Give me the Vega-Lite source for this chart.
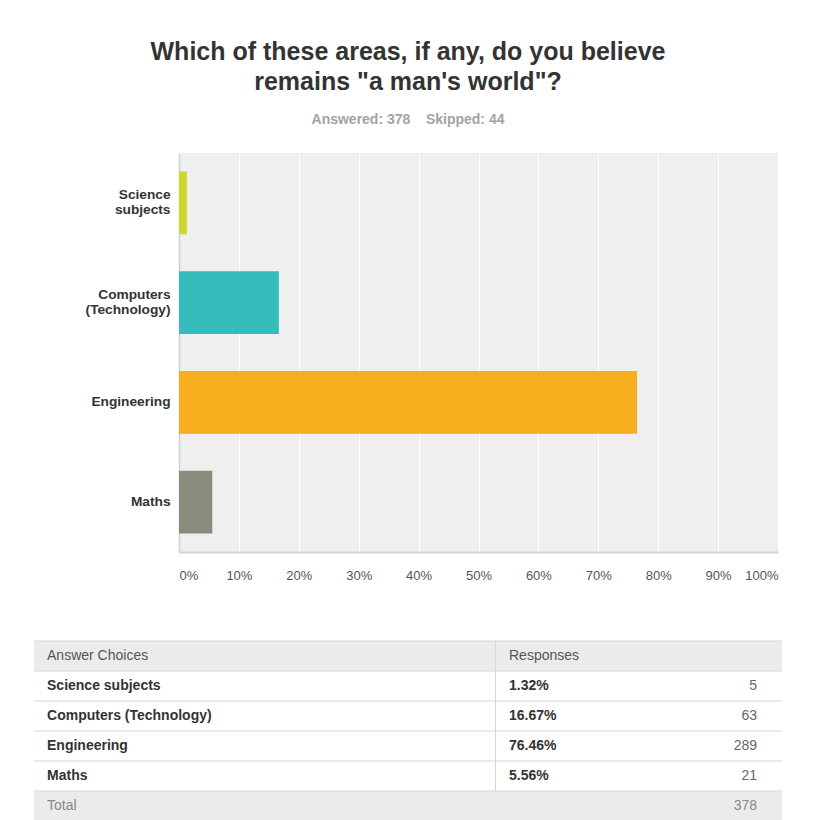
{
  "$schema": "https://vega.github.io/schema/vega-lite/v6.json",
  "padding": {"left": 33, "top": 40, "right": 0, "bottom": 0},
  "background": "#ffffff",
  "title": {
    "text": ["Which of these areas, if any, do you believe", "remains \"a man's world\"?"],
    "subtitle": "Answered: 378\u00a0\u00a0\u00a0\u00a0Skipped: 44",
    "anchor": "middle",
    "frame": "bounds",
    "font": "Liberation Sans",
    "fontSize": 25,
    "fontWeight": "bold",
    "color": "#333333",
    "lineHeight": 30,
    "subtitleFont": "Liberation Sans",
    "subtitleFontSize": 14,
    "subtitleFontWeight": "bold",
    "subtitleColor": "#a3a3a3",
    "subtitlePadding": 18,
    "offset": 26
  },
  "datasets": {
    "answers": [
      {"choice": "Science subjects", "pct": 0.0132, "count": 5},
      {"choice": "Computers (Technology)", "pct": 0.1667, "count": 63},
      {"choice": "Engineering", "pct": 0.7646, "count": 289},
      {"choice": "Maths", "pct": 0.0556, "count": 21}
    ],
    "header": [{"row": "Answer Choices", "label": "Answer Choices", "label2": "Responses"}],
    "total": [{"row": "Total", "label": "Total", "count": 378}],
    "rows": [
      {"row": "Answer Choices"},
      {"row": "Science subjects"},
      {"row": "Computers (Technology)"},
      {"row": "Engineering"},
      {"row": "Maths"},
      {"row": "Total"}
    ]
  },
  "vconcat": [
    {
      "width": 599,
      "height": 399,
      "view": {"fill": "#efefef", "stroke": null},
      "data": {"name": "answers"},
      "mark": {"type": "bar"},
      "encoding": {
        "y": {
          "field": "choice",
          "type": "nominal",
          "sort": null,
          "scale": {"paddingInner": 0.37, "paddingOuter": 0.185},
          "axis": {
            "title": null,
            "labelExpr": "split(datum.label, ' ')",
            "labelFont": "Liberation Sans",
            "labelFontSize": 13.7,
            "labelFontWeight": "bold",
            "labelColor": "#333333",
            "labelLineHeight": 15,
            "labelPadding": 9,
            "labelOffset": {"condition": {"test": "datum.value == 'Science subjects' || datum.value == 'Computers (Technology)'", "value": -7.5}, "value": 0},
            "ticks": false,
            "domain": true,
            "domainColor": "#d0d0d0",
            "domainWidth": 1.5,
            "minExtent": 145,
            "maxExtent": 145
          }
        },
        "x": {
          "field": "pct",
          "type": "quantitative",
          "scale": {"domain": [0, 1], "nice": false},
          "axis": {
            "title": null,
            "format": ".0%",
            "values": [0, 0.1, 0.2, 0.3, 0.4, 0.5, 0.6, 0.7, 0.8, 0.9, 1],
            "labelFont": "Liberation Sans",
            "labelFontSize": 13,
            "labelColor": "#555555",
            "labelPadding": 17,
            "labelFlush": true,
            "ticks": false,
            "grid": true,
            "gridColor": "#ffffff",
            "gridWidth": 1,
            "domain": true,
            "domainColor": "#d4d4d4",
            "domainWidth": 2
          }
        },
        "color": {
          "field": "choice",
          "type": "nominal",
          "scale": {
            "domain": ["Science subjects", "Computers (Technology)", "Engineering", "Maths"],
            "range": ["#ccd82c", "#35bdbe", "#f6ae1f", "#8a8b7a"]
          },
          "legend": null
        }
      }
    },
    {
      "width": 603,
      "height": 180,
      "view": {"fill": null, "stroke": null},
      "layer": [
        {
          "data": {"name": "header"},
          "mark": {"type": "rect", "fill": "#ebebeb"},
          "encoding": {
            "x": {"datum": 0},
            "x2": {"datum": 100},
            "y": {"field": "row", "type": "nominal"}
          }
        },
        {
          "data": {"name": "total"},
          "mark": {"type": "rect", "fill": "#ebebeb"},
          "encoding": {
            "x": {"datum": 0},
            "x2": {"datum": 100},
            "y": {"field": "row", "type": "nominal"}
          }
        },
        {
          "data": {"name": "rows"},
          "mark": {"type": "rule", "color": "#d6d6d6", "strokeWidth": 1},
          "encoding": {
            "x": {"datum": 0},
            "x2": {"datum": 100},
            "y": {"field": "row", "type": "nominal", "bandPosition": 0}
          }
        },
        {
          "data": {"name": "rows"},
          "transform": [{"filter": "datum.row != 'Total'"}],
          "mark": {"type": "rect", "fill": "#d6d6d6", "x2Offset": 1},
          "encoding": {
            "x": {"datum": 61.63},
            "x2": {"datum": 61.63},
            "y": {"field": "row", "type": "nominal"}
          }
        },
        {
          "data": {"name": "header"},
          "mark": {"type": "text", "align": "left", "font": "Liberation Sans", "fontSize": 14, "color": "#555555"},
          "encoding": {
            "x": {"datum": 1.74},
            "y": {"field": "row", "type": "nominal"},
            "text": {"field": "label"}
          }
        },
        {
          "data": {"name": "header"},
          "mark": {"type": "text", "align": "left", "font": "Liberation Sans", "fontSize": 14, "color": "#555555"},
          "encoding": {
            "x": {"datum": 63.5},
            "y": {"field": "row", "type": "nominal"},
            "text": {"field": "label2"}
          }
        },
        {
          "data": {"name": "answers"},
          "mark": {"type": "text", "align": "left", "font": "Liberation Sans", "fontSize": 14, "fontWeight": "bold", "color": "#333333"},
          "encoding": {
            "x": {"datum": 1.74},
            "y": {"field": "choice", "type": "nominal"},
            "text": {"field": "choice"}
          }
        },
        {
          "data": {"name": "answers"},
          "mark": {"type": "text", "align": "left", "font": "Liberation Sans", "fontSize": 14, "fontWeight": "bold", "color": "#333333"},
          "encoding": {
            "x": {"datum": 63.5},
            "y": {"field": "choice", "type": "nominal"},
            "text": {"field": "pct", "format": ".2%"}
          }
        },
        {
          "data": {"name": "answers"},
          "mark": {"type": "text", "align": "right", "font": "Liberation Sans", "fontSize": 14, "color": "#666666"},
          "encoding": {
            "x": {"datum": 96.66},
            "y": {"field": "choice", "type": "nominal"},
            "text": {"field": "count"}
          }
        },
        {
          "data": {"name": "total"},
          "mark": {"type": "text", "align": "left", "font": "Liberation Sans", "fontSize": 14, "color": "#888888"},
          "encoding": {
            "x": {"datum": 1.74},
            "y": {"field": "row", "type": "nominal"},
            "text": {"field": "label"}
          }
        },
        {
          "data": {"name": "total"},
          "mark": {"type": "text", "align": "right", "font": "Liberation Sans", "fontSize": 14, "color": "#888888"},
          "encoding": {
            "x": {"datum": 96.66},
            "y": {"field": "row", "type": "nominal"},
            "text": {"field": "count"}
          }
        }
      ],
      "encoding": {
        "x": {"type": "quantitative", "scale": {"domain": [19.385, 100], "nice": false, "zero": false}, "axis": null},
        "y": {
          "type": "nominal",
          "scale": {
            "domain": ["Answer Choices", "Science subjects", "Computers (Technology)", "Engineering", "Maths", "Total"],
            "paddingInner": 0,
            "paddingOuter": 0
          },
          "axis": null
        }
      }
    }
  ],
  "spacing": 58,
  "config": {
    "font": "Liberation Sans"
  }
}
